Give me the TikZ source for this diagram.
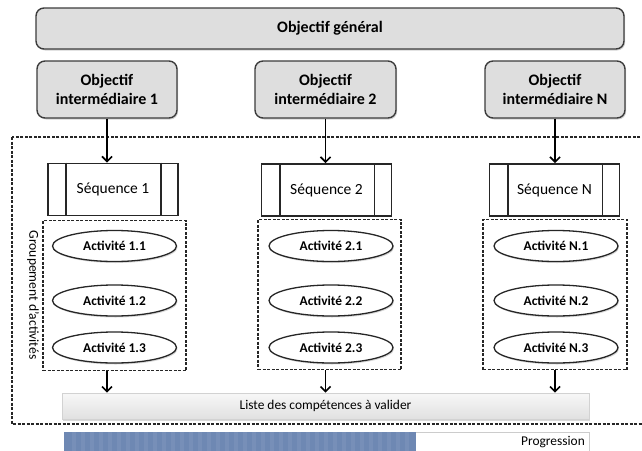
\documentclass[tikz,border=0pt]{standalone}
\usepackage{fontspec}
\setmainfont{Carlito}
\usetikzlibrary{arrows.meta,shadows,shapes.geometric}

\definecolor{boxgray}{HTML}{DEDEDE}
\definecolor{linegray}{HTML}{3C3C3C}
\definecolor{progblue}{HTML}{6E88B3}

\begin{document}
\begin{tikzpicture}[
    x=1pt, y=-1pt,
    every node/.style={inner sep=0pt},
    objbox/.style={draw=linegray, line width=1.4pt, fill=boxgray, rounded corners=8pt,
      drop shadow={opacity=.35, shadow xshift=1.2pt, shadow yshift=-1.5pt},
      font=\fontsize{16}{19}\selectfont\bfseries, align=center},
    seqbox/.style={draw=black!85, line width=1.7pt, fill=white,
      minimum width=130pt, minimum height=52pt, font=\fontsize{15.5}{18}\selectfont},
    actell/.style={ellipse, draw=black!85, line width=1.3pt, fill=white,
      drop shadow={opacity=.3, shadow xshift=1pt, shadow yshift=-1.5pt},
      minimum width=124pt, minimum height=31pt, font=\fontsize{13.4}{16}\selectfont\bfseries},
    grpbox/.style={draw=black!85, line width=1.5pt, dash pattern=on 3pt off 1.5pt,
      minimum height=150pt},
    outerdash/.style={draw=black!85, line width=1.5pt, dash pattern=on 3pt off 1.5pt},
    arr/.style={draw=black, line width=1.7pt, -{Straight Barb[length=5pt,width=10pt]}}]

      \useasboundingbox (0,0) rectangle (642,450);

      % objectifs
      \node[objbox, minimum width=588pt, minimum height=41pt] (gen) at (330,28.5) {Objectif général};

      \node[objbox, minimum width=140pt, minimum height=57pt] (oi1) at (107,89.5) {Objectif\\intermédiaire 1};
      \node[objbox, minimum width=141pt, minimum height=57pt] (oi2) at (325.5,89.5) {Objectif\\intermédiaire 2};
      \node[objbox, minimum width=140pt, minimum height=57pt] (oiN) at (555,89.5) {Objectif\\intermédiaire N};

      \draw[outerdash] (12,137) rectangle (660,424);

      % sequences
      \node[seqbox] (seq1) at (113,189.5) {Séquence 1};
      \node[seqbox] (seq2) at (326.5,190) {Séquence 2};
      \node[seqbox] (seqN) at (554.5,190) {Séquence N};

      \foreach \s in {1,2,N} {
        \draw[black!85, line width=1.7pt] ([xshift=19pt]seq\s.north west) -- ([xshift=19pt]seq\s.south west);
        \draw[black!85, line width=1.7pt] ([xshift=-18pt]seq\s.north east) -- ([xshift=-18pt]seq\s.south east);
        \draw[arr] (oi\s.south) -- (oi\s.south |- seq\s.north);
      }

      % groupements
      \node[grpbox, minimum width=143pt] (grp1) at (114.5,295.5) {};
      \node[grpbox, minimum width=143pt] (grp2) at (329.5,294.5) {};
      \node[grpbox, minimum width=144pt] (grpN) at (555,294.5) {};

      \node[rotate=-90, font=\fontsize{13.6}{16}\selectfont] (grlab) at (33,295) {Groupement d'activités};

      % activites
      \foreach \s/\x in {1/114.5, 2/331, N/556}
        \foreach \k/\y in {1/246, 2/300.5, 3/347.5}
          \node[actell] (act\s\k) at (\x,\y) {Activité \s.\k};

      % competences
      \node[draw=gray!35, line width=.6pt, top color=gray!6, bottom color=gray!24,
            drop shadow={opacity=.3, shadow xshift=1pt, shadow yshift=-1.5pt},
            minimum width=527pt, minimum height=26pt,
            font=\fontsize{13.4}{16}\selectfont] (list) at (325.5,406) {Liste des compétences à valider};

      \foreach \s in {1,2,N}
        \draw[arr] (oi\s.south |- grp\s.south) -- (oi\s.south |- list.north);

      % progression
      \draw[draw=gray!40, line width=.8pt, fill=white] (64,432) rectangle (589,462);
      \fill[progblue] (64.4,432.4) rectangle (416,462);
      \foreach \xs in {72,81,...,408}
        \fill[progblue!94!white] (\xs,432.4) rectangle ++(4,30);
      \node[anchor=east, font=\fontsize{13.4}{16}\selectfont] (prog) at (585,442.5) {Progression};

    \end{tikzpicture}
\end{document}
